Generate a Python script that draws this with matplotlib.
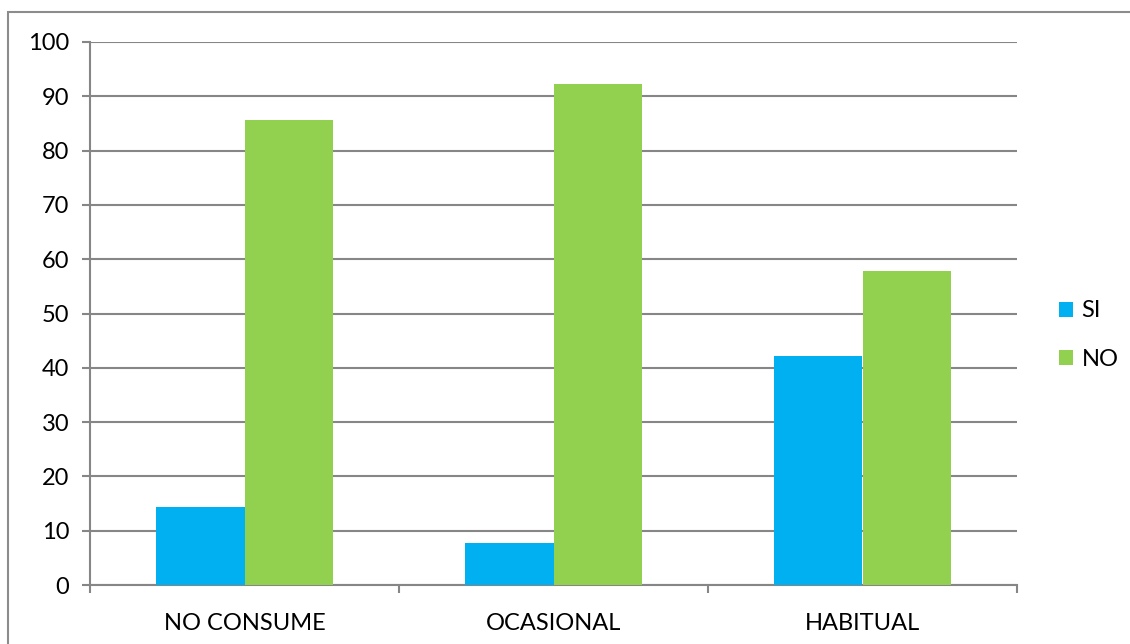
import matplotlib
matplotlib.use("Agg")
import matplotlib.pyplot as plt
from matplotlib.patches import Rectangle
import numpy as np

categories = ["NO CONSUME", "OCASIONAL", "HABITUAL"]
si_values = [14.3, 7.7, 42.1]
no_values = [85.7, 92.3, 57.9]
y_ticks = [0, 10, 20, 30, 40, 50, 60, 70, 80, 90, 100]

plt.rcParams["font.family"] = ["Lato", "DejaVu Sans"]

W, H = 1130, 644
fig = plt.figure(figsize=(W / 100, H / 100), dpi=100)
fig.patch.set_facecolor("white")

# Outer chart frame (only left and top edges fall inside the canvas)
fig.add_artist(Rectangle((8 / W, -0.1), 1.2, (H - 12) / H + 0.1, transform=fig.transFigure,
                         fill=False, edgecolor="#8c8c8c", linewidth=1.5))

ax = fig.add_axes([90 / W, (H - 585) / H, (1017 - 90) / W, (585 - 42) / H])

grid_color = "#868686"
blue = "#00b0f0"
green = "#92d050"

x = np.arange(len(categories))
bw = 0.285
ax.bar(x - bw / 2, si_values, width=bw, color=blue, label="SI", zorder=3)
ax.bar(x + bw / 2, no_values, width=bw, color=green, label="NO", zorder=3)

ax.set_xlim(-0.5, len(categories) - 0.5)
ax.set_ylim(0, 100)
ax.set_yticks(y_ticks)
ax.set_yticklabels([str(v) for v in y_ticks], fontsize=17)
ax.yaxis.grid(True, color=grid_color, linewidth=1.5, zorder=0)
ax.set_axisbelow(True)

ax.set_xticks(x)
ax.set_xticklabels(categories, fontsize=17)
ax.tick_params(axis="x", length=0, pad=20)
ax.set_xticks(np.arange(len(categories) + 1) - 0.5, minor=True)
ax.tick_params(axis="x", which="minor", length=6, color=grid_color, width=1.5)
ax.tick_params(axis="y", length=6, color=grid_color, width=1.5, pad=9)

for s in ["top", "right"]:
    ax.spines[s].set_visible(False)
for s in ["left", "bottom"]:
    ax.spines[s].set_color(grid_color)
    ax.spines[s].set_linewidth(1.5)

leg = fig.legend(loc="center left", bbox_to_anchor=(1059 / W, (H - 335) / H),
                 frameon=False, fontsize=17, handlelength=0.6, handleheight=0.6,
                 handletextpad=0.35, labelspacing=1.15, borderpad=0, borderaxespad=0)

fig.savefig("out.png", dpi=100)
